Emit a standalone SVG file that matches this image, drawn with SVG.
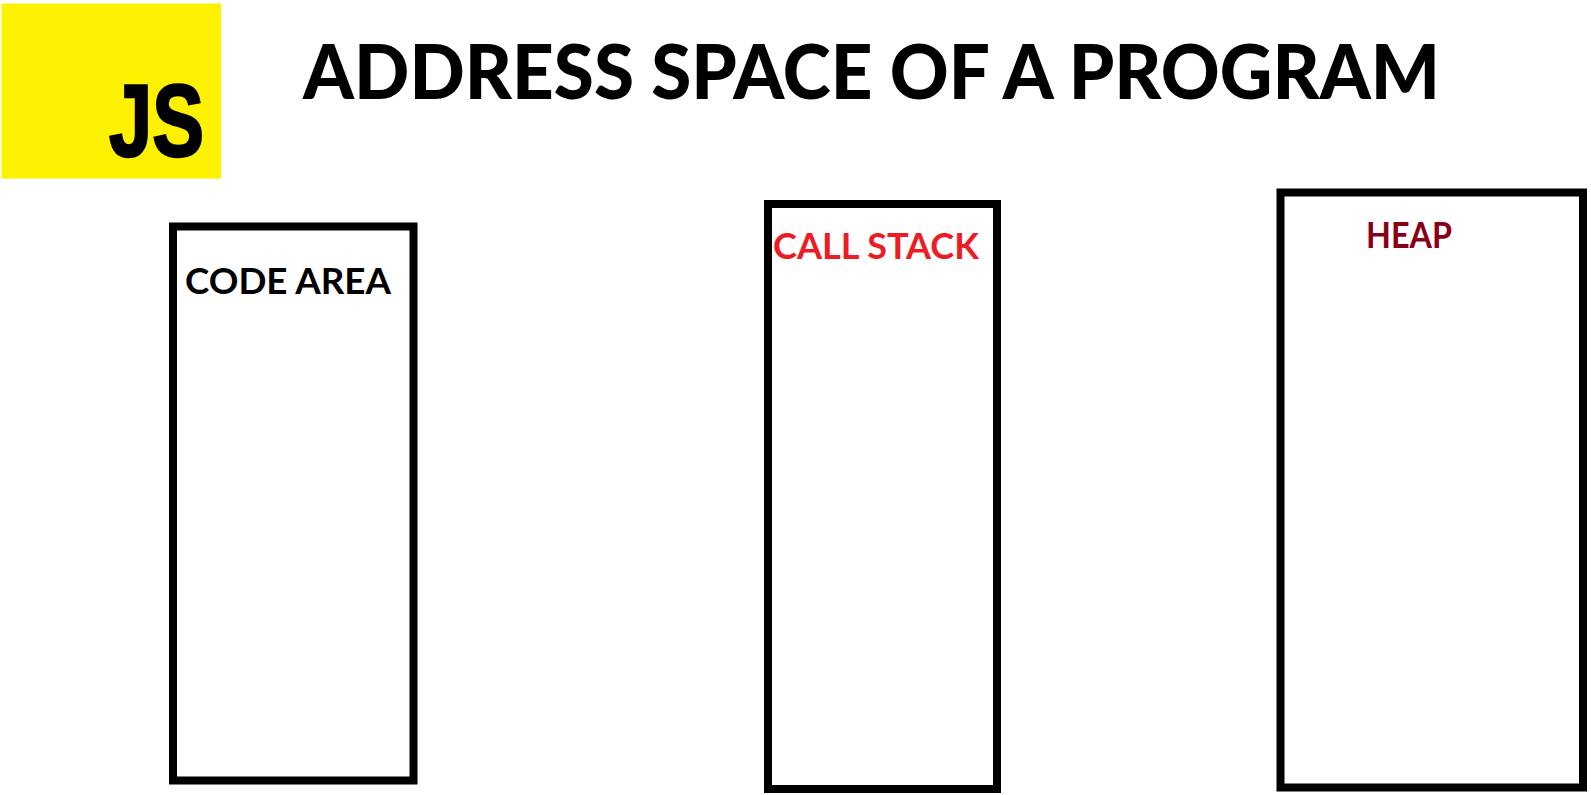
<svg xmlns="http://www.w3.org/2000/svg" width="1591" height="795" viewBox="0 0 1591 795">
  <style>
    text { font-family: "Lato", "Liberation Sans", sans-serif; font-weight: 900; }
    .box { fill: #ffffff; stroke: #000000; stroke-width: 8; }
    .label { font-size: 37px; font-weight: 700; }
  </style>
  <rect width="1591" height="795" fill="#ffffff"/>
  <g id="logo">
    <rect x="1.5" y="3.5" width="219.5" height="175" fill="#fff200"/>
    <text x="109" y="156" font-size="102" textLength="95" lengthAdjust="spacingAndGlyphs" fill="#000000" stroke="#000000" stroke-width="2.5" style="font-family:'Liberation Sans',Arial,sans-serif;font-weight:700">JS</text>
  </g>
  <g id="title">
    <text x="303" y="99" font-size="77" textLength="1137" lengthAdjust="spacingAndGlyphs" fill="#000000">ADDRESS SPACE OF A PROGRAM</text>
  </g>
  <g id="code-area">
    <rect class="box" x="173" y="226.5" width="240.5" height="554"/>
    <text class="label" x="185" y="294" textLength="206" lengthAdjust="spacingAndGlyphs" fill="#000000">CODE AREA</text>
  </g>
  <g id="call-stack">
    <rect class="box" x="768" y="204" width="229" height="585"/>
    <text class="label" x="773" y="259" textLength="206" lengthAdjust="spacingAndGlyphs" fill="#ed1c24">CALL STACK</text>
  </g>
  <g id="heap">
    <rect class="box" x="1280.5" y="192.5" width="302.5" height="595"/>
    <text class="label" x="1366" y="248" textLength="86" lengthAdjust="spacingAndGlyphs" fill="#880015">HEAP</text>
  </g>
  <g id="connectors"></g>
</svg>
